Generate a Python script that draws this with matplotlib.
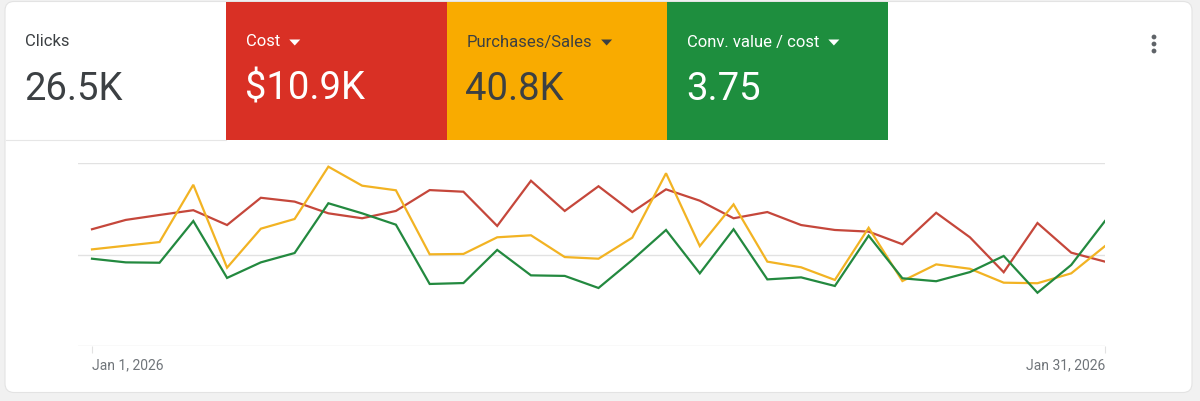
import matplotlib
matplotlib.use('Agg')
import matplotlib.pyplot as plt
import numpy as np
import pandas as pd
from matplotlib.patches import FancyBboxPatch, Rectangle, Polygon, Circle

plt.rcParams['font.family'] = ['Roboto', 'DejaVu Sans']

# --- data (relative position of each series on the shared 0-100 axis) ---
dates = pd.date_range('2026-01-01', periods=31, freq='D')

cost = [63.8, 68.9, 71.6, 74.2, 66.1, 81.0, 78.9, 72.5, 69.8, 73.8, 85.2,
        84.3, 65.6, 90.3, 73.8, 87.3, 73.2, 85.6, 79.4, 69.8, 73.2,
        66.1, 63.4, 62.5, 55.6, 72.8, 59.4, 40.3, 67.2, 51.0, 46.1]
purchases = [52.8, 54.8, 56.8, 88.1, 42.8, 64.1, 69.4, 98.0, 87.6, 85.1, 50.1,
             50.3, 59.4, 60.5, 48.6, 47.7, 59.2, 94.4, 54.6, 77.4, 46.1,
             43.0, 36.1, 64.6, 35.5, 44.6, 42.2, 34.6, 34.3, 39.7, 54.6]
conv_value_cost = [47.7, 45.7, 45.5, 68.3, 37.2, 45.7, 50.8, 78.0, 72.5, 66.3, 33.9,
                   34.4, 52.5, 38.6, 38.3, 31.7, 47.0, 63.4, 39.7, 63.8, 36.4,
                   37.5, 32.8, 60.3, 37.0, 35.4, 40.4, 49.2, 29.1, 44.3, 68.3]

tile_labels = ['Clicks', 'Cost', 'Purchases/Sales', 'Conv. value / cost']
tile_values = ['26.5K', '$10.9K', '40.8K', '3.75']
tile_colors = ['white', '#d93025', '#f9ab00', '#1e8e3e']
tile_text = ['#3c4043', 'white', '#3c4043', 'white']
tile_dropdown = [False, True, True, True]

line_colors = {'cost': '#c5473b', 'purchases': '#f2b323', 'conv': '#23893f'}

W, H = 1200, 401
fig = plt.figure(figsize=(W / 100, H / 100), dpi=100)
fig.patch.set_facecolor('#f1f1f1')

# --- background card in pixel coordinates ---
bg = fig.add_axes([0, 0, 1, 1], zorder=0)
bg.set_xlim(0, W)
bg.set_ylim(H, 0)
bg.axis('off')

card = FancyBboxPatch((5, 1.5), 1187, 391, boxstyle='round,pad=0,rounding_size=9',
                      facecolor='white', edgecolor='#e3e3e3', linewidth=0.8)
bg.add_patch(card)

tile_w = 220.5
tile_x0 = 5
bg.plot([5.5, 226], [139.5, 139.5], color='#e6e6e6', lw=0.8)
for i, (lab, val) in enumerate(zip(tile_labels, tile_values)):
    x0 = 226 + (i - 1) * tile_w if i > 0 else tile_x0
    if i > 0:
        bg.add_patch(Rectangle((x0, 1.5), tile_w, 138, facecolor=tile_colors[i],
                               edgecolor='none'))
    tx = 25 if i == 0 else x0 + 20
    t = bg.text(tx, 42, lab, color=tile_text[i], fontsize=12, va='center', ha='left')
    bg.text(tx - 1, 89, val, color=tile_text[i], fontsize=27.5, va='center', ha='left')
    if tile_dropdown[i]:
        fig.canvas.draw()
        bb = t.get_window_extent().transformed(bg.transData.inverted())
        xr = max(bb.x0, bb.x1) + 9
        bg.add_patch(Polygon([[xr, 39.5], [xr + 11, 39.5], [xr + 5.5, 45.5]],
                             closed=True, facecolor=tile_text[i], edgecolor='none'))

for yy in (37, 44, 51):
    bg.add_patch(Circle((1154, yy), 2.4, facecolor='#5f6368', edgecolor='none'))

# --- line chart ---
ax = fig.add_axes([78 / W, (H - 346) / H, (1105 - 78) / W, (346 - 163) / H], zorder=1)
ax.patch.set_alpha(0)
for s in ax.spines.values():
    s.set_visible(False)

ax.plot(dates, cost, color=line_colors['cost'], lw=1.6, solid_joinstyle='miter')
ax.plot(dates, purchases, color=line_colors['purchases'], lw=1.6, solid_joinstyle='miter')
ax.plot(dates, conv_value_cost, color=line_colors['conv'], lw=1.6, solid_joinstyle='miter')

ax.set_ylim(0, 100)
ax.set_yticks([0, 50, 100])
ax.yaxis.grid(True, color='#e2e2e2', lw=1.0)
ax.set_axisbelow(True)
ax.tick_params(axis='y', length=0, labelleft=False)

left_pad = pd.Timedelta(days=14 / 33.77)
ax.set_xlim(dates[0] - left_pad, dates[-1])
ax.set_xticks([dates[0], dates[-1]])
ax.set_xticklabels(['Jan 1, 2026', 'Jan 31, 2026'])
ax.tick_params(axis='x', length=5, width=0.8, color='#e2e2e2', labelcolor='#70757a',
               labelsize=10, pad=4)
labels = ax.get_xticklabels()
labels[0].set_ha('left')
labels[1].set_ha('right')

fig.savefig('out.png', dpi=100, facecolor=fig.get_facecolor())
